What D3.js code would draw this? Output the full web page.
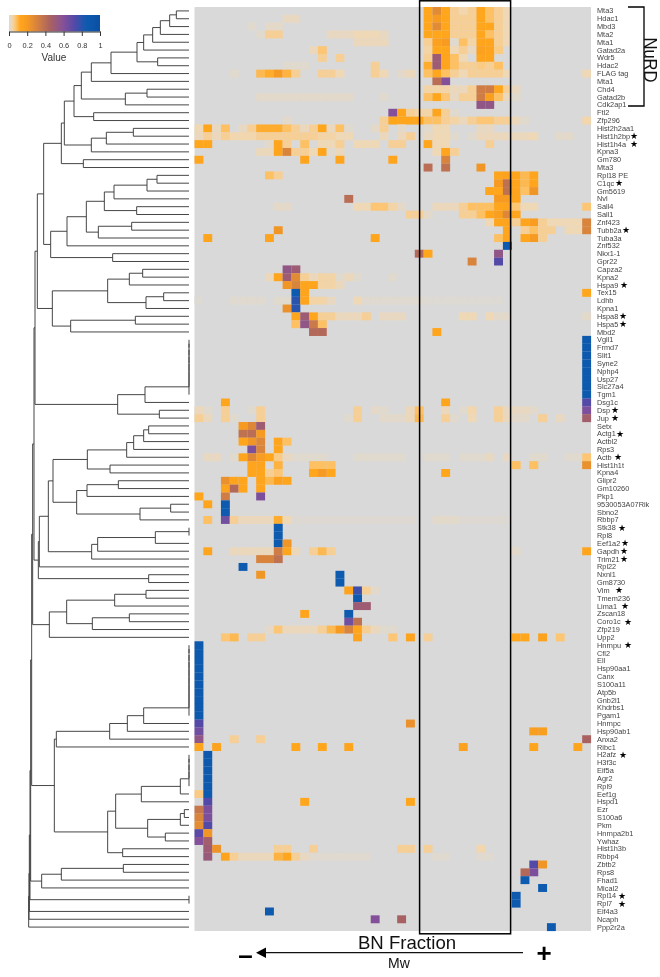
<!DOCTYPE html>
<html>
<head>
<meta charset="utf-8">
<script src="https://cdn.jsdelivr.net/npm/d3@7/dist/d3.min.js"></script>
<style>
html,body{margin:0;padding:0;background:#fff;overflow:hidden}
svg{display:block;filter:blur(.5px)}
text{font-family:"Liberation Sans",Arial,sans-serif}
</style>
</head>
<body>
<svg id="chart" width="660" height="977"></svg>
<script>
// ---- categories ----
const genes = ["Mta3","Hdac1","Mbd3","Mta2","Mta1","Gatad2a","Wdr5","Hdac2","FLAG tag","Mta1","Chd4","Gatad2b","Cdk2ap1","Ftl2","Zfp296","Hist2h2aa1","Hist1h2bp","Hist1h4a","Kpna3","Gm780","Mta3","Rpl18 PE","C1qc","Gm5619","Nvl","Sall4","Sall1","Znf423","Tubb2a","Tuba3a","Znf532","Nkx1-1","Gpr22","Capza2","Kpna2","Hspa9","Tex15","Ldhb","Kpna1","Hspa8","Hspa5","Mbd2","Vgll1","Frmd7","Slit1","Syne2","Nphp4","Usp27","Slc27a4","Tgm1","Dsg1c","Dsp","Jup","Setx","Actg1","Actbl2","Rps3","Actb","Hist1h1t","Kpna4","Glipr2","Gm10260","Pkp1","9530053A07Rik","Sbno2","Rbbp7","Stk38","Rpl8","Eef1a2","Gapdh","Trim21","Rpl22","Nxnl1","Gm8730","Vim","Tmem236","Lima1","Zscan18","Coro1c","Zfp219","Upp2","Hnrnpu","Cfl2","Ell","Hsp90aa1","Canx","S100a11","Atp5b","Gnb2l1","Khdrbs1","Pgam1","Hnrnpc","Hsp90ab1","Anxa2","Ribc1","H2afz","H3f3c","Eif5a","Agr2","Rpl9","Eef1g","Hspd1","Ezr","S100a6","Pkm","Hnrnpa2b1","Ywhaz","Hist1h3b","Rbbp4","Zbtb2","Rps8","Fhad1","Mical2","Rpl14","Rpl7","Eif4a3","Ncaph","Ppp2r2a"];
const fractionCount = 45;

// genes carrying a star
const starred = ["Hist1h2bp","Hist1h4a","C1qc","Tubb2a","Hspa9","Hspa8","Hspa5","Dsp","Jup","Actg1","Actb","Stk38","Eef1a2","Gapdh","Trim21","Vim","Lima1","Coro1c","Hnrnpu","H2afz","Rpl14","Rpl7"];
const starCentre = [634,634,619,626,624,623,623,615,615,620,618,622,625,624,624,619,625,628,628,623,622,622];

// ---- heatmap values: one list per row, entries [fraction, value] or [from, to, value] ----
const heatValues = [
/*Mta3*/ [[26,.12],[27,.27],[28,.12],[29,.05],[30,.035],[31,.05],[32,.12],[33,.08],[34,.05],[35,.03]],
/*Hdac1*/ [[10,11,.02],[26,.12],[27,.2],[28,.12],[29,.05],[30,.05],[31,.05],[32,.12],[33,.08],[34,.05],[35,.03]],
/*Mbd3*/ [[6,.01],[8,9,.015],[26,.12],[27,.27],[28,.12],[29,.05],[30,.05],[31,.05],[32,.12],[33,.12],[34,.05],[35,.03]],
/*Mta2*/ [[7,.01],[8,9,.05],[15,17,.02],[18,20,.03],[21,.02],[26,.12],[27,.12],[28,.12],[29,.05],[30,.05],[31,.05],[32,.12],[33,.08],[34,.05],[35,.03]],
/*Mta1*/ [[18,21,.025],[26,.05],[27,.16],[28,.19],[29,.01],[30,.08],[31,.04],[32,.13],[33,.13],[34,.05],[35,.03]],
/*Gatad2a*/ [[13,.025],[14,.07],[26,.04],[27,.12],[28,.12],[29,.03],[30,.05],[31,.02],[32,.16],[33,.14],[34,.06]],
/*Wdr5*/ [[14,.05],[16,.05],[26,.05],[27,.5],[28,.13],[29,.08],[30,.03],[32,.13],[33,.13]],
/*Hdac2*/ [[10,12,.01],[20,.05],[26,.11],[27,.5],[28,.13],[29,.08],[30,.05],[31,.05],[32,.06],[33,.05],[34,.08]],
/*FLAG tag*/ [[4,.01],[7,.09],[8,.11],[9,.2],[10,.1],[11,.05],[14,.05],[15,.05],[16,.03],[20,.05],[21,.03],[23,.015],[24,.025],[26,.08],[27,.12],[28,.08],[29,.05],[30,.03],[31,.05],[32,.05],[33,.05],[34,.05],[35,.03],[44,.03]],
/*Mta1*/ [[27,.4],[28,.6]],
/*Chd4*/ [[26,.04],[27,.04],[28,.04],[29,.025],[30,.025],[31,.05],[32,.33],[33,.33],[34,.13],[35,.05],[36,.02]],
/*Gatad2b*/ [[7,17,.012],[21,.01],[26,.08],[27,.12],[28,.07],[29,.02],[30,.05],[31,.05],[32,.33],[33,.17],[34,.08],[35,.025],[36,.01]],
/*Cdk2ap1*/ [[32,33,.55]],
/*Ftl2*/ [[22,.6],[23,.13],[24,.05],[25,.04],[26,.04],[27,.13],[28,.05],[29,.01]],
/*Zfp296*/ [[10,.012],[21,.05],[22,25,.12],[26,27,.08],[28,.05],[29,.04],[30,.025],[31,.05],[32,33,.07],[34,.05],[35,.05],[36,.025],[37,.01],[44,.035]],
/*Hist2h2aa1*/ [[0,.03],[1,.12],[2,.02],[3,.08],[5,.02],[6,.05],[7,9,.11],[10,.08],[11,.05],[12,.025],[13,.05],[14,.12],[15,.025],[16,.08],[17,.01],[20,.015],[21,.05],[23,.015],[26,.01],[27,28,.03],[32,33,.02]],
/*Hist1h2bp*/ [[0,.025],[1,.05],[2,.025],[3,.05],[4,6,.035],[7,13,.05],[14,15,.04],[16,17,.03],[21,.025],[23,.025],[24,.05],[26,.02],[27,28,.03],[29,.01],[31,.01],[32,37,.025],[38,.03],[41,42,.012]],
/*Hist1h4a*/ [[0,1,.12],[8,.015],[9,.13],[10,.05],[12,.08],[14,.03],[15,.03],[16,.05],[18,20,.03],[22,23,.05],[26,.12],[27,28,.03],[33,.05]],
/*Kpna3*/ [[7,8,.025],[9,.13],[10,.3],[11,.05],[12,.05],[13,.03],[14,.13],[15,.01],[16,.025],[27,.03],[28,.13],[29,.05]],
/*Gm780*/ [[0,.13],[12,.13],[16,.13],[22,.13],[28,.3]],
/*Mta3*/ [[26,.4],[28,.38],[32,.22]],
/*Rpl18 PE*/ [[8,.08],[9,.05],[34,.13],[35,.15],[36,.13],[37,.09],[38,.13]],
/*C1qc*/ [[34,.2],[35,.38],[36,.13],[37,.09],[38,.13]],
/*Gm5619*/ [[33,34,.12],[35,.38],[36,.13],[37,.08],[38,.22]],
/*Nvl*/ [[17,.4],[34,35,.2],[36,.13]],
/*Sall4*/ [[9,10,.015],[18,19,.03],[20,21,.07],[22,.04],[23,.015],[27,29,.025],[30,.05],[31,33,.08],[34,.12],[35,.14],[36,.07],[37,38,.03],[44,.07]],
/*Sall1*/ [[24,25,.05],[26,.015],[30,31,.05],[32,.08],[33,.12],[34,.17],[35,.28],[36,.13]],
/*Znf423*/ [[33,.03],[34,.13],[35,.14],[36,.05],[37,.13],[38,.18],[39,.05],[40,43,.03],[44,.3]],
/*Tubb2a*/ [[9,.22],[35,.13],[37,.05],[38,.08],[39,40,.05],[42,43,.03],[44,.3]],
/*Tuba3a*/ [[1,.13],[8,.13],[20,.13],[34,.08],[35,.13],[37,.13],[38,.2],[39,.05]],
/*Znf532*/ [[35,.88]],
/*Nkx1-1*/ [[25,.42],[26,.12],[34,.55]],
/*Gpr22*/ [[31,.3],[34,.72]],
/*Capza2*/ [[10,.55],[11,.5]],
/*Kpna2*/ [[8,.025],[9,.13],[10,.5],[11,.27],[12,.05],[13,.025],[14,15,.04],[16,.01],[17,.025],[18,.01],[22,.01]],
/*Hspa9*/ [[10,.22],[11,.3],[12,13,.13],[14,15,.04],[16,.025]],
/*Tex15*/ [[11,.85],[12,.13],[44,.12]],
/*Ldhb*/ [[0,.005],[4,7,.008],[9,10,.01],[11,.8],[12,.13],[13,14,.04],[15,.02],[18,.03],[19,25,.008],[26,34,.005]],
/*Kpna1*/ [[10,.24],[11,.8]],
/*Hspa8*/ [[11,.12],[12,.5],[13,.13],[14,15,.05],[16,18,.025],[19,.05],[21,23,.02],[30,31,.03],[33,.03],[34,35,.012],[44,.012]],
/*Hspa5*/ [[11,.08],[12,.55],[13,.35],[14,.08]],
/*Mbd2*/ [[13,14,.42],[27,.13]],
/*Vgll1*/ [[44,.88]],
/*Frmd7*/ [[44,.88]],
/*Slit1*/ [[44,.88]],
/*Syne2*/ [[44,.88]],
/*Nphp4*/ [[44,.88]],
/*Usp27*/ [[44,.88]],
/*Slc27a4*/ [[44,.88]],
/*Tgm1*/ [[44,.88]],
/*Dsg1c*/ [[3,.13],[28,.13],[44,.72]],
/*Dsp*/ [[0,.025],[1,.01],[3,.05],[6,.01],[7,.05],[18,.05],[20,.015],[21,.01],[24,.025],[25,.08],[28,.025],[30,.01],[31,.035],[34,.05],[35,37,.02],[38,.012],[44,.62]],
/*Jup*/ [[0,.05],[1,.025],[3,.05],[4,.01],[7,.05],[17,.01],[18,.05],[21,23,.012],[24,.025],[25,.09],[28,.05],[29,.01],[31,.03],[34,.05],[35,.025],[36,37,.012],[39,.05],[41,.02],[44,.48]],
/*Setx*/ [[5,.2],[6,.28],[7,.5]],
/*Actg1*/ [[5,.38],[6,.4],[7,.2]],
/*Actbl2*/ [[5,.13],[6,.22],[7,.28],[9,.13],[10,.08]],
/*Rps3*/ [[6,.62],[7,.3],[9,.12]],
/*Actb*/ [[1,2,.02],[4,.01],[5,.13],[6,.28],[7,.18],[8,.12],[9,.06],[10,.02],[11,14,.01],[18,23,.01],[26,28,.01],[30,32,.01],[33,.02],[35,.02],[38,39,.01],[42,43,.01],[44,.07]],
/*Hist1h1t*/ [[6,.13],[7,.14],[9,.1],[13,15,.08],[36,.08],[38,.08],[44,.24]],
/*Kpna4*/ [[6,.13],[7,.13],[8,.05],[9,.07],[13,.12],[14,.2],[15,.12],[28,.12]],
/*Glipr2*/ [[3,.24],[4,5,.13],[7,.13],[8,.09],[9,.16],[10,.13]],
/*Gm10260*/ [[3,.14],[4,.42],[5,.13],[7,.13]],
/*Pkp1*/ [[0,.12],[3,.33],[7,.62]],
/*9530053A07Rik*/ [[1,.13],[3,.86]],
/*Sbno2*/ [[3,.86]],
/*Rbbp7*/ [[1,.08],[3,.65],[4,.05],[5,8,.025],[9,.11],[10,.03],[11,24,.006],[27,29,.012],[30,35,.006]],
/*Stk38*/ [[9,.86]],
/*Rpl8*/ [[9,.86]],
/*Eef1a2*/ [[9,.86],[10,.22]],
/*Gapdh*/ [[1,.13],[4,8,.025],[9,.33],[10,.13],[11,.025],[13,.05],[14,.09],[15,.05],[36,.012],[44,.13]],
/*Trim21*/ [[7,8,.3],[9,.38]],
/*Rpl22*/ [[5,.86]],
/*Nxnl1*/ [[7,.22],[16,.86]],
/*Gm8730*/ [[16,.86]],
/*Vim*/ [[17,.14],[18,.76],[19,.05],[20,.012]],
/*Tmem236*/ [[18,.86]],
/*Lima1*/ [[18,19,.5]],
/*Zscan18*/ [[12,.13],[17,.86]],
/*Coro1c*/ [[17,.65],[18,.38]],
/*Zfp219*/ [[8,.015],[9,.07],[10,13,.025],[14,.05],[15,.09],[16,.2],[17,.3],[18,.13],[19,.05],[20,.025],[21,22,.01]],
/*Upp2*/ [[3,.07],[4,.09],[6,7,.05],[18,.14],[22,.07],[24,.14],[26,.05],[36,37,.12],[39,.15],[41,.07]],
/*Hnrnpu*/ [[0,.88]],
/*Cfl2*/ [[0,.88]],
/*Ell*/ [[0,.88]],
/*Hsp90aa1*/ [[0,.88]],
/*Canx*/ [[0,.88]],
/*S100a11*/ [[0,.88]],
/*Atp5b*/ [[0,.88]],
/*Gnb2l1*/ [[0,.88]],
/*Khdrbs1*/ [[0,.88]],
/*Pgam1*/ [[0,.88]],
/*Hnrnpc*/ [[0,.72],[24,.24]],
/*Hsp90ab1*/ [[0,.65],[38,39,.17]],
/*Anxa2*/ [[0,.55],[4,.05],[7,.05],[44,.45]],
/*Ribc1*/ [[0,.13],[2,.14],[11,.12],[14,.12],[17,.13],[30,.15],[38,.13],[43,.13]],
/*H2afz*/ [[1,.88]],
/*H3f3c*/ [[1,.88]],
/*Eif5a*/ [[1,.88]],
/*Agr2*/ [[1,.88]],
/*Rpl9*/ [[1,.88]],
/*Eef1g*/ [[0,.06],[1,.85]],
/*Hspd1*/ [[1,.72],[12,.12],[24,.12]],
/*Ezr*/ [[0,.36],[1,.62]],
/*S100a6*/ [[0,.3],[1,.62]],
/*Pkm*/ [[0,.26],[1,.72]],
/*Hnrnpa2b1*/ [[0,.7],[1,.22]],
/*Ywhaz*/ [[0,.6],[1,.48]],
/*Hist1h3b*/ [[1,.5],[2,.23],[9,10,.05],[13,.05],[23,24,.05],[26,.05],[32,.035]],
/*Rbbp4*/ [[1,.52],[3,.14],[4,.05],[5,8,.025],[9,.1],[10,.12],[11,.05],[12,.02],[13,19,.008],[27,28,.008],[32,33,.008]],
/*Zbtb2*/ [[38,.72],[39,.22]],
/*Rps8*/ [[37,.42],[38,.62]],
/*Fhad1*/ [[37,.86]],
/*Mical2*/ [[39,.86]],
/*Rpl14*/ [[36,.86]],
/*Rpl7*/ [[36,.86]],
/*Eif4a3*/ [[8,.86]],
/*Ncaph*/ [[20,.6],[23,.46]],
/*Ppp2r2a*/ [[40,.86]]
];

// ---- dendrogram: [height, left, right]; a plain number is a leaf (row index) ----
const tieGroup = (a, b) => { let n = a; for (let r = a + 1; r <= b; r++) n = [0, n, r]; return n; };
const nurdBranch = [383,[374,[345,[323,[293,[234,[156,[136,[109,[86,[58,[38,0,1],2],3],4],5],[94,6,7]],8],9],[191,[126,10,11],12]],[286,13,14]],[293,[248,[167,15,16],17],18]],[317,19,20]];
const sallBranch = [415,[366,[308,[254,[225,[126,[96,21,22],23],24],[157,25,26]],[272,[172,27,28],29]],30],[229,31,32]];
const kpnaBranch = [410,[244,[179,[139,33,34],35],[129,[76,36,37],38]],[355,[161,39,40],41]];
const topBranch = [455,[436,nurdBranch,sallBranch],kpnaBranch];
const vgllBranch = [214,[132,tieGroup(42,49),50],[89,51,52]];
const actinBranch = [408,[305,[187,[166,[136,[121,53,54],55],56],57],[237,58,59]],[337,[306,[212,60,61],62],[147,[55,63,64],65]]];
const eefBranch = [292,[274,[101,[0,66,67],68],69],70];
const midBranch = [452,[449,[422,actinBranch,eefBranch],71],[121,72,73]];
const vimBranch = [419,[367,[223,[129,74,75],76],[290,[179,77,78],79]],80];
const hnrnpBranch = [404,[398,[238,[185,[136,tieGroup(81,90),91],92],93],94],[244,[220,[143,[26,tieGroup(95,99),100],101],[124,[26,[14,102,103],104],[71,105,106]]],[199,107,108]]];
const zbtbBranch = [442,[383,[197,109,110],111],112];
const trunk = [481,[480,[479,[477,[475,[472,[469,[465,[462,topBranch,vgllBranch],midBranch],vimBranch],hnrnpBranch],zbtbBranch],[0,113,114]],115],116],117];

// ---- colour legend ----
const legendTicks = [0,.2,.4,.6,.8,1];
const colorStops = [0,.03,.07,.12,.2,.35,.45,.6,.72,.85,1];
const colorRange = ["#d9d9d9","#efd8b6","#fcc675","#ffa61c","#f69a22","#c9794a","#a9625f","#84509a","#534aa8","#0d5bb0","#0a4fa3"];

// ---- layout ----
const svg = d3.select("#chart");
const rowBand = d3.scaleBand().domain(d3.range(genes.length)).range([7,931]);
const colBand = d3.scaleBand().domain(d3.range(fractionCount)).range([194.5,591]);
const color = d3.scaleLinear().domain(colorStops).range(colorRange).clamp(true);
const treeX = d3.scaleLinear().domain([0,567]).range([189,0]);
const rowY = r => rowBand(r) + rowBand.bandwidth()/2;

// heatmap
svg.append("rect").attr("x",colBand.range()[0]).attr("y",7)
   .attr("width",colBand.range()[1]-colBand.range()[0]).attr("height",924).attr("fill",color(0));
const cells = [];
heatValues.forEach((row,r)=>row.forEach(e=>{
  const from=e[0], to=e.length===3?e[1]:e[0], v=e[e.length-1];
  for(let c=from;c<=to;c++) cells.push({r,c,v});
}));
svg.append("g").selectAll("rect").data(cells).join("rect")
   .attr("x",d=>colBand(d.c)).attr("y",d=>rowBand(d.r))
   .attr("width",colBand.bandwidth()+.1).attr("height",rowBand.bandwidth()+.1)
   .attr("fill",d=>color(d.v));

// labels
const labelG = svg.append("g").attr("font-size",7.35).attr("fill","#444");
labelG.selectAll("text").data(genes).join("text")
   .attr("x",597).attr("y",(d,i)=>rowY(i)).attr("dy","0.35em").text(d=>d);
// stars
svg.append("g").selectAll("text").data(starred).join("text")
   .style("font-family","'DejaVu Sans'").attr("font-size",9).attr("fill","#000").attr("text-anchor","middle")
   .attr("x",(d,i)=>starCentre[i])
   .attr("y",d=>rowY(genes.indexOf(d))).attr("dy","0.33em").text("★");

// dendrogram
const treeG = svg.append("g").attr("fill","none").attr("stroke","#3c3c3c").attr("stroke-width",.95);
function drawNode(n){
  if(typeof n==="number") return {x:treeX(0),y:rowY(n)};
  const a=drawNode(n[1]), b=drawNode(n[2]), x=treeX(n[0]);
  treeG.append("path").attr("d",d3.line()([[a.x,a.y],[x,a.y],[x,b.y],[b.x,b.y]]));
  return {x,y:(a.y+b.y)/2};
}
drawNode(trunk);

// legend
const legendX = d3.scaleLinear().domain([0,1]).range([9,100]);
const defs = svg.append("defs");
const grad = defs.append("linearGradient").attr("id","lg");
d3.range(0,1.001,.02).forEach(t=>grad.append("stop").attr("offset",t).attr("stop-color",color(t)));
svg.append("rect").attr("x",9).attr("y",15).attr("width",91).attr("height",16.5).attr("fill","url(#lg)");
const axisG = svg.append("g").attr("transform","translate(0,31.5)")
   .call(d3.axisBottom(legendX).tickValues(legendTicks).tickFormat(d3.format("")).tickSize(4.5).tickPadding(7));
axisG.selectAll("text").attr("font-size",7.4).attr("fill","#333").style("font-family","'Liberation Sans'");
axisG.selectAll("line").attr("stroke","#333");
axisG.select(".domain").attr("stroke","#333");
svg.append("text").attr("x",54).attr("y",60.5).attr("text-anchor","middle").attr("font-size",10).attr("fill","#333").text("Value");

// outlined fraction window
svg.append("rect").attr("x",419.6).attr("y",.8).attr("width",91).attr("height",933)
   .attr("fill","none").attr("stroke","#000").attr("stroke-width",1.5);

// NuRD bracket
svg.append("path").attr("d","M628,7H644V106H628").attr("fill","none").attr("stroke","#000").attr("stroke-width",1.3);
svg.append("text").attr("transform","translate(644,60) rotate(90) scale(.95,1)").attr("text-anchor","middle")
   .attr("font-size",17.5).attr("fill","#111").text("NuRD");

// fraction axis annotation
svg.append("text").attr("x",407).attr("y",949).attr("text-anchor","middle").attr("font-size",18.6).attr("fill","#111").text("BN Fraction");
svg.append("text").attr("x",399).attr("y",968).attr("text-anchor","middle").attr("font-size",14).attr("fill","#111").text("Mw");
svg.append("line").attr("x1",523).attr("x2",262).attr("y1",952.7).attr("y2",952.7).attr("stroke","#111").attr("stroke-width",1.3);
svg.append("path").attr("d","M256,952.7L266,947.5V958Z").attr("fill","#000");
svg.append("text").attr("x",245.5).attr("y",964).attr("text-anchor","middle").attr("font-size",26).attr("font-weight","bold").attr("fill","#000").text("–");
svg.append("text").attr("x",544).attr("y",962).attr("text-anchor","middle").attr("font-size",26).attr("font-weight","bold").attr("fill","#000").text("+");
</script>
</body>
</html>
